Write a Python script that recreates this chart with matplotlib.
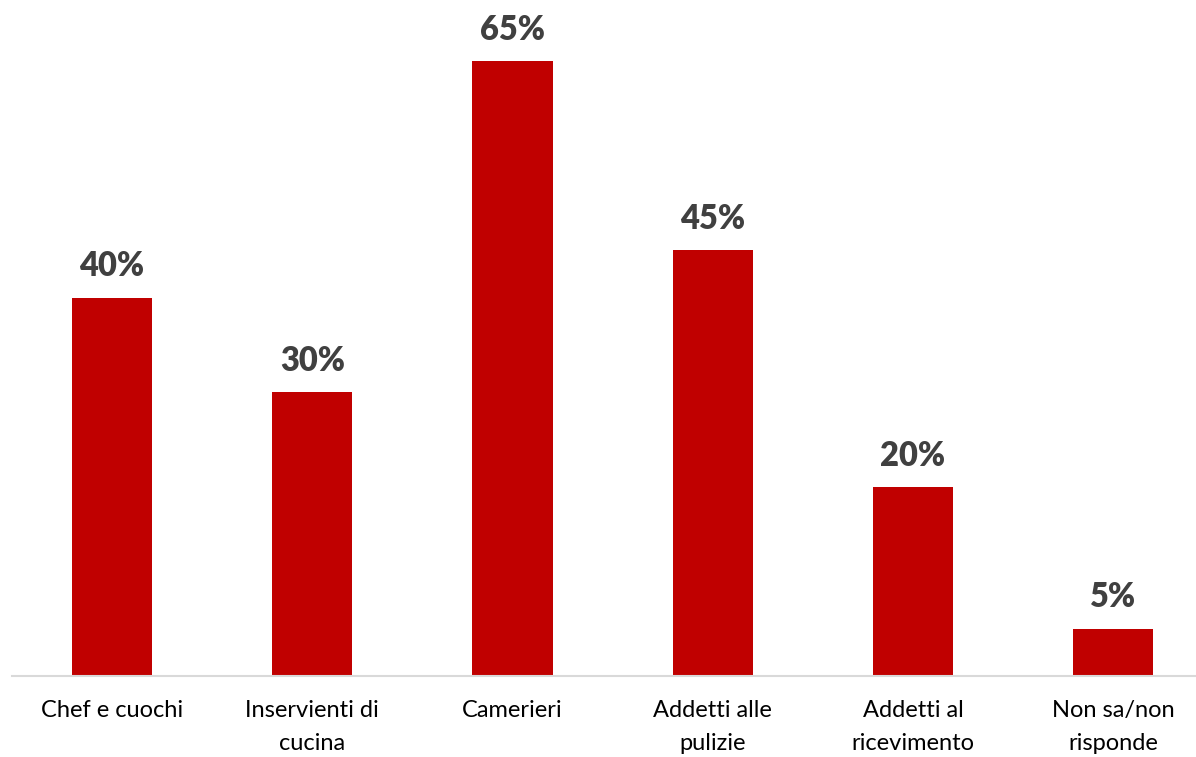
import matplotlib.pyplot as plt
import numpy as np

plt.rcParams['font.family'] = ['Lato', 'DejaVu Sans']

categorie = ['Chef e cuochi', 'Inservienti di\ncucina', 'Camerieri',
             'Addetti alle\npulizie', 'Addetti al\nricevimento', 'Non sa/non\nrisponde']
valori = [40, 30, 65, 45, 20, 5]

fig = plt.figure(figsize=(11.96, 7.57), dpi=100)
ax = fig.add_axes([12 / 1196, 81 / 757, 1 - 12 / 1196, 676 / 757])

x = np.arange(len(categorie))
bars = ax.bar(x, valori, width=0.4, color='#C00000')

# etichette sopra le barre
for bar, v in zip(bars, valori):
    ax.annotate(f'{v}%', (bar.get_x() + bar.get_width() / 2, v),
                xytext=(0, 11), textcoords='offset points',
                ha='center', va='bottom', fontsize=23.5, fontweight='heavy',
                color='#404040')

ax.set_xlim(-0.5, -0.5 + 1184 / 200.2)
ax.set_ylim(0, 676 / 9.46)
ax.set_xticks(x)
ax.set_xticklabels(categorie, fontsize=17, color='#000000', linespacing=1.7)
ax.tick_params(axis='x', length=0, pad=17)
ax.set_yticks([])

for s in ['top', 'right', 'left']:
    ax.spines[s].set_visible(False)
ax.spines['bottom'].set_color('#D9D9D9')
ax.spines['bottom'].set_linewidth(1.5)

fig.savefig('out.png', dpi=100)
